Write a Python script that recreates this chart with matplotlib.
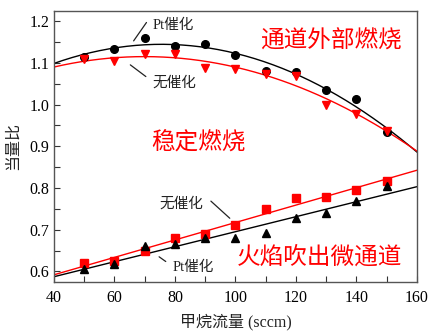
import numpy as np
import matplotlib
matplotlib.use("Agg")
import matplotlib.pyplot as plt
from matplotlib.ticker import MultipleLocator

plt.rcParams['font.family'] = ['Liberation Serif', 'Noto Sans CJK SC']
plt.rcParams['mathtext.fontset'] = 'stix'

# data
flow = [50, 60, 70, 80, 90, 100, 110, 120, 130, 140, 150]
pt_upper = [1.115, 1.132, 1.160, 1.140, 1.146, 1.118, 1.080, 1.078, 1.034, 1.014, 0.934]
nc_upper = [1.108, 1.104, 1.120, 1.120, 1.087, 1.085, 1.073, 1.068, 1.000, 0.977, 0.936]
nc_lower = [0.621, 0.624, 0.650, 0.680, 0.689, 0.712, 0.749, 0.776, 0.778, 0.794, 0.817]
pt_lower = [0.606, 0.618, 0.660, 0.666, 0.681, 0.681, 0.693, 0.728, 0.741, 0.770, 0.804]

fig = plt.figure(figsize=(4.37, 3.34), dpi=100)
ax = fig.add_axes([0.1236, 0.156, 0.8304, 0.811])

xf = np.linspace(40, 160, 200)
red = '#ff0000'
ax.plot(xf, np.polyval(np.polyfit(flow, pt_upper, 2), xf), color='black', lw=1)
ax.plot(xf, np.polyval(np.polyfit(flow, nc_upper, 2), xf), color=red, lw=1)
ax.plot(xf, np.polyval(np.polyfit(flow, nc_lower, 1), xf), color=red, lw=1)
ax.plot(xf, np.polyval(np.polyfit(flow, pt_lower, 1), xf), color='black', lw=1)

ax.plot(flow, pt_upper, 'o', color='black', ms=5.5, ls='none')
ax.plot(flow, nc_upper, 'v', color=red, ms=6, ls='none')
ax.plot(flow, nc_lower, 's', color=red, ms=5.5, ls='none')
ax.plot(flow, pt_lower, '^', color='black', ms=6, ls='none')

ax.set_xlim(40, 160)
ax.set_ylim(0.575, 1.224)
ax.xaxis.set_major_locator(MultipleLocator(20))
ax.xaxis.set_minor_locator(MultipleLocator(10))
ax.yaxis.set_major_locator(MultipleLocator(0.1))
ax.yaxis.set_minor_locator(MultipleLocator(0.05))
ax.tick_params(which='both', direction='in', top=False, right=False, length=4, width=0.8, labelsize=11.5, color='#333333')
ax.tick_params(axis='x', pad=6)
for s in ax.spines.values():
    s.set_color('#555555')
    s.set_linewidth(1)

ax.set_xlabel('甲烷流量 (sccm)', fontsize=11.5, color='#222222', labelpad=5)
ax.set_ylabel('当量比', fontsize=11.5, color='#222222', labelpad=6)

cj = ['Liberation Serif', 'Noto Sans CJK SC']
lc = '#222222'
ax.annotate('', xy=(65.8, 1.147), xytext=(71.1, 1.202), arrowprops=dict(arrowstyle='-', color=lc, lw=0.9))
ax.text(72.7, 1.19, 'Pt催化', fontsize=10.5, family=cj, color=lc, ha='left', va='center')
ax.annotate('', xy=(64.5, 1.099), xytext=(71.1, 1.063), arrowprops=dict(arrowstyle='-', color=lc, lw=0.9))
ax.text(72.7, 1.051, '无催化', fontsize=10.5, family=cj, color=lc, ha='left', va='center')
ax.annotate('', xy=(91.2, 0.773), xytext=(98.8, 0.723), arrowprops=dict(arrowstyle='-', color=lc, lw=0.9))
ax.text(89.3, 0.761, '无催化', fontsize=10.5, family=cj, color=lc, ha='right', va='center')
ax.annotate('', xy=(74.0, 0.639), xytext=(77.7, 0.620), arrowprops=dict(arrowstyle='-', color=lc, lw=0.9))
ax.text(79.3, 0.610, 'Pt催化', fontsize=10.5, family=cj, color=lc, ha='left', va='center')

ax.text(131.7, 1.150, '通道外部燃烧', fontsize=17, family=cj, color=red, ha='center', va='center', weight='light')
ax.text(87.9, 0.907, '稳定燃烧', fontsize=17, family=cj, color=red, ha='center', va='center', weight='light')
ax.text(127.9, 0.634, '火焰吹出微通道', fontsize=17, family=cj, color=red, ha='center', va='center', weight='light')

fig.savefig('out.png', dpi=100)
